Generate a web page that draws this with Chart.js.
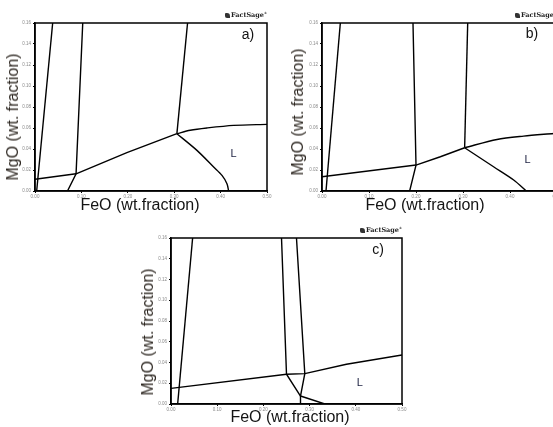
<!DOCTYPE html>
<html>
<head>
<meta charset="utf-8">
<script src="https://cdn.jsdelivr.net/npm/chart.js@4.4.1/dist/chart.umd.min.js"></script>
<style>
  html, body { margin: 0; padding: 0; background: #fff; }
  body { position: relative; width: 553px; height: 427px; overflow: hidden;
         font-family: Arial, "Liberation Sans", sans-serif; }
  .panel { position: absolute; }
  .ytitle { position: absolute; white-space: nowrap; font-size: 16px; color: #2e2822;
            transform: translate(-50%, -50%) rotate(-90deg); }
  .xtitle { position: absolute; white-space: nowrap; font-size: 16px; color: #141414;
            transform: translate(-50%, -50%); }
  .logo { position: absolute; white-space: nowrap; font-family: "DejaVu Serif", serif;
          font-size: 6.5px; font-weight: bold; color: #222; transform: translate(-100%, -50%); }
  .logo b { display: inline-block; width: 5px; height: 5px; background: #333; margin-right: 1px;
            border-radius: 1px 3px 0 2px; vertical-align: -0.5px; }
  .logo sup { font-size: 3px; }
</style>
</head>
<body>

<canvas id="chartA" class="panel" width="275" height="200" style="left:0px;top:0px"></canvas>
<canvas id="chartB" class="panel" width="285" height="200" style="left:280px;top:0px"></canvas>
<canvas id="chartC" class="panel" width="280" height="199" style="left:130px;top:215px"></canvas>

<div class="ytitle" style="left:13px;top:117px">MgO (wt. fraction)</div>
<div class="xtitle" style="left:140px;top:205px">FeO (wt.fraction)</div>
<div class="ytitle" style="left:298px;top:112px">MgO (wt. fraction)</div>
<div class="xtitle" style="left:425px;top:205px">FeO (wt.fraction)</div>
<div class="ytitle" style="left:148px;top:332px">MgO (wt. fraction)</div>
<div class="xtitle" style="left:290px;top:417px">FeO (wt.fraction)</div>

<div class="logo" style="left:267px;top:15px"><b></b>FactSage<sup>®</sup></div>
<div class="logo" style="left:557px;top:15px"><b></b>FactSage<sup>®</sup></div>
<div class="logo" style="left:402px;top:230px"><b></b>FactSage<sup>®</sup></div>

<script>
// Axis ticks (FeO and MgO weight fractions)
const FEO_TICKS = [0.00, 0.10, 0.20, 0.30, 0.40, 0.50];
const MGO_TICKS = [0.00, 0.02, 0.04, 0.06, 0.08, 0.10, 0.12, 0.14, 0.16];

// Panel a) phase boundaries, [FeO, MgO] pairs
const a_left      = [[0.0381, 0.16], [0.0036, 0]];
const a_lowTie    = [[0, 0.0112], [0.0885, 0.0164]];
const a_second    = [[0.1029, 0.16], [0.0885, 0.0164], [0.070, 0]];
const a_rising    = [[0.0885, 0.0164], [0.198, 0.0365], [0.3058, 0.0546]];
const a_third     = [[0.3288, 0.16], [0.3058, 0.0546]];
const a_liqUpper  = [[0.3058, 0.0546], [0.3345, 0.0578], [0.3705, 0.0600], [0.428, 0.0625], [0.50, 0.0635]];
const a_liqLower  = [[0.3058, 0.0546], [0.349, 0.0387], [0.385, 0.0229], [0.403, 0.0149], [0.4137, 0.0070], [0.4173, 0]];

// Panel b) phase boundaries
const b_left      = [[0.039, 0.16], [0.0085, 0]];
const b_lowTie    = [[0, 0.0136], [0.200, 0.0247]];
const b_second    = [[0.1936, 0.16], [0.200, 0.0247], [0.1865, 0]];
const b_rising    = [[0.200, 0.0247], [0.2518, 0.0326], [0.3035, 0.0412]];
const b_third     = [[0.310, 0.16], [0.3035, 0.0412]];
const b_liqUpper  = [[0.3035, 0.0412], [0.3723, 0.0491], [0.429, 0.0523], [0.4929, 0.0548], [0.50, 0.0551]];
const b_liqLower  = [[0.3035, 0.0412], [0.365, 0.0231], [0.4078, 0.0105], [0.4348, 0]];

// Panel c) phase boundaries
const c_left      = [[0.0468, 0.16], [0.0144, 0]];
const c_tie       = [[0, 0.0151], [0.250, 0.0287], [0.2896, 0.0293], [0.3797, 0.0383], [0.50, 0.0473]];
const c_second    = [[0.2392, 0.16], [0.250, 0.0287], [0.2803, 0.0077]];
const c_third     = [[0.2716, 0.16], [0.2896, 0.0293], [0.2803, 0.0077], [0.2803, 0]];
const c_foot      = [[0.2803, 0.0077], [0.333, 0]];

// Region labels: [text, FeO, MgO]
const LIQUID_A = ['L', 0.428, 0.035];
const LIQUID_B = ['L', 0.4376, 0.030];
const LIQUID_C = ['L', 0.4085, 0.020];

function toDataset(points, curved) {
  return {
    data: points.map(([x, y]) => ({ x, y })),
    showLine: true,
    borderColor: '#000',
    borderWidth: 1.4,
    pointRadius: 0,
    pointHoverRadius: 0,
    fill: false,
    tension: curved ? 0.3 : 0
  };
}

// Frame round the plot area plus the in-plot labels
const framePlugin = {
  id: 'frameAndLabels',
  afterDatasetsDraw(chart, args, opts) {
    const { ctx, chartArea: a, scales } = chart;
    ctx.save();
    ctx.strokeStyle = '#000';
    ctx.lineWidth = 1.5;
    ctx.strokeRect(a.left, a.top, a.right - a.left, a.bottom - a.top);

    const [txt, fx, fy] = opts.region;
    ctx.fillStyle = '#1c2040';
    ctx.font = '11px Arial, "Liberation Sans", sans-serif';
    ctx.textAlign = 'center';
    ctx.textBaseline = 'middle';
    ctx.fillText(txt, scales.x.getPixelForValue(fx), scales.y.getPixelForValue(fy));

    ctx.fillStyle = '#111';
    ctx.font = '14px Arial, "Liberation Sans", sans-serif';
    ctx.fillText(opts.tag, a.right - opts.tagDx, a.top + opts.tagDy);
    ctx.restore();
  }
};

function makeChart(id, lines, curvedIdx, geom, region, tag) {
  const tickFont = { size: 4.5, family: 'Arial, "Liberation Sans", sans-serif' };
  return new Chart(document.getElementById(id), {
    type: 'scatter',
    data: { datasets: lines.map((l, i) => toDataset(l, curvedIdx.includes(i))) },
    options: {
      responsive: false,
      animation: false,
      events: [],
      layout: { padding: { top: geom.top, right: geom.right, left: 0, bottom: 0 } },
      plugins: {
        legend: { display: false },
        tooltip: { enabled: false },
        frameAndLabels: { region, tag, tagDx: geom.tagDx, tagDy: geom.tagDy }
      },
      scales: {
        x: {
          type: 'linear', min: 0, max: 0.5,
          afterBuildTicks: s => { s.ticks = FEO_TICKS.map(v => ({ value: v })); },
          afterFit: s => { s.height = geom.xh; },
          ticks: { font: tickFont, color: '#8a8a8a', padding: 1, maxRotation: 0, autoSkip: false,
                   callback: v => Number(v).toFixed(2) },
          grid: { drawOnChartArea: false, tickLength: 2, color: '#000' },
          border: { display: true, color: '#000', width: 1.5 }
        },
        y: {
          type: 'linear', min: 0, max: 0.16,
          afterBuildTicks: s => { s.ticks = MGO_TICKS.map(v => ({ value: v })); },
          afterFit: s => { s.width = geom.yw; },
          ticks: { font: tickFont, color: '#8a8a8a', padding: 2, autoSkip: false,
                   callback: v => Number(v).toFixed(2) },
          grid: { drawOnChartArea: false, tickLength: 2, color: '#000' },
          border: { display: true, color: '#000', width: 1.5 }
        }
      }
    },
    plugins: [framePlugin]
  });
}

makeChart('chartA',
  [a_left, a_lowTie, a_second, a_rising, a_third, a_liqUpper, a_liqLower], [5, 6],
  { top: 23, right: 8, yw: 35, xh: 9, tagDx: 19, tagDy: 12 }, LIQUID_A, 'a)');

makeChart('chartB',
  [b_left, b_lowTie, b_second, b_rising, b_third, b_liqUpper, b_liqLower], [5, 6],
  { top: 23, right: 8, yw: 42, xh: 9, tagDx: 25, tagDy: 11 }, LIQUID_B, 'b)');

makeChart('chartC',
  [c_left, c_tie, c_second, c_third, c_foot], [],
  { top: 23, right: 8, yw: 41, xh: 10, tagDx: 24, tagDy: 12 }, LIQUID_C, 'c)');
</script>
</body>
</html>
